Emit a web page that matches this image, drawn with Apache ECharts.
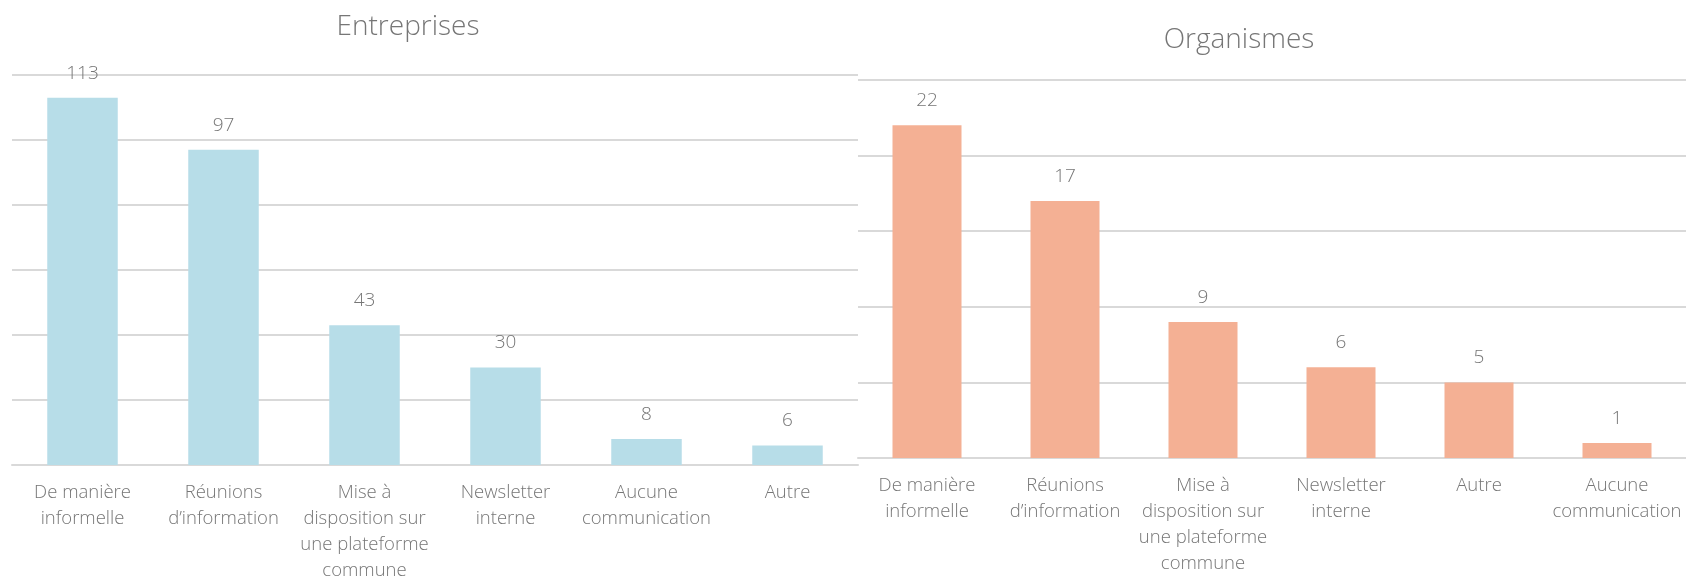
<!DOCTYPE html>
<html>
<head>
<meta charset="utf-8">
<script src="https://cdn.jsdelivr.net/npm/echarts@6/dist/echarts.min.js"></script>
<style>
  html, body { margin: 0; padding: 0; background: #ffffff; }
  #chart { width: 1686px; height: 580px; }
</style>
</head>
<body>
<div id="chart"></div>
<script>
// ---- Data ----
const titleLeft = "Entreprises";
const titleRight = "Organismes";
const categoriesLeft = ["De manière\ninformelle", "Réunions\nd’information", "Mise à\ndisposition sur\nune plateforme\ncommune", "Newsletter\ninterne", "Aucune\ncommunication", "Autre"];
const valuesLeft = [113, 97, 43, 30, 8, 6];
const categoriesRight = ["De manière\ninformelle", "Réunions\nd’information", "Mise à\ndisposition sur\nune plateforme\ncommune", "Newsletter\ninterne", "Autre", "Aucune\ncommunication"];
const valuesRight = [22, 17, 9, 6, 5, 1];

const FONT = "'Open Sans', 'Noto Sans', sans-serif";
const TEXT = '#767676';
const GRID = '#d9d9d9';

const chart = echarts.init(document.getElementById('chart'), null, { renderer: 'canvas' });

function xAxis(gridIndex, cats) {
  return {
    type: 'category', gridIndex: gridIndex, data: cats,
    axisTick: { show: false },
    axisLine: { show: true, lineStyle: { color: GRID, width: 2 } },
    axisLabel: { color: TEXT, fontFamily: FONT, fontWeight: 300, fontSize: 18.5, lineHeight: 26, margin: 15, interval: 0 }
  };
}
function yAxis(gridIndex, max, interval) {
  return {
    type: 'value', gridIndex: gridIndex, min: 0, max: max, interval: interval,
    axisLabel: { show: false }, axisTick: { show: false }, axisLine: { show: false },
    splitLine: { show: true, lineStyle: { color: GRID, width: 2 } }
  };
}
function series(idx, vals, color) {
  return {
    type: 'bar', xAxisIndex: idx, yAxisIndex: idx, data: vals,
    barCategoryGap: '50%',
    itemStyle: { color: color },
    label: { show: true, position: 'top', distance: 15, color: TEXT, fontFamily: FONT, fontWeight: 300, fontSize: 19 }
  };
}

chart.setOption({
  animation: false,
  title: [
    { text: titleLeft, left: 403, top: 8, textAlign: 'center',
      textStyle: { color: TEXT, fontFamily: FONT, fontWeight: 300, fontSize: 28 } },
    { text: titleRight, left: 1234, top: 21, textAlign: 'center',
      textStyle: { color: TEXT, fontFamily: FONT, fontWeight: 300, fontSize: 28 } }
  ],
  grid: [
    { left: 12, top: 75, width: 846, height: 390, containLabel: false, outerBoundsMode: 'none' },
    { left: 858, top: 80, width: 828, height: 378, containLabel: false, outerBoundsMode: 'none' }
  ],
  xAxis: [xAxis(0, categoriesLeft), xAxis(1, categoriesRight)],
  yAxis: [yAxis(0, 120, 20), yAxis(1, 25, 5)],
  series: [series(0, valuesLeft, '#b7dde8'), series(1, valuesRight, '#f4b094')]
});
</script>
</body>
</html>
